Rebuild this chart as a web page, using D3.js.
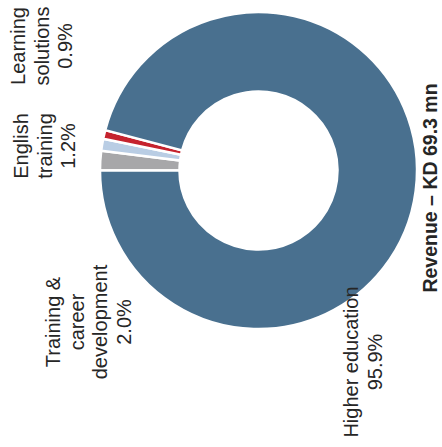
<!DOCTYPE html>
<html>
<head>
<meta charset="utf-8">
<script src="https://cdn.jsdelivr.net/npm/d3@7"></script>
<style>
  html, body { margin: 0; padding: 0; background: #fff; }
  text { font-family: "Liberation Sans", Arial, sans-serif; }
</style>
</head>
<body>
<div id="chart"></div>
<script>
// segments, in drawing order (clockwise on screen from 9 o'clock)
let segments = ['Training & career development', 'English training', 'Learning solutions', 'Higher education'];
let shares = [2.0, 1.2, 0.9, 95.9];
let segmentColors = ['#a7a7a9', '#b9cde4', '#c5232e', '#49708f'];

// label lines, one list per segment
let labelLines = [
    ['Training &', 'career', 'development', '2.0%'],
    ['English', 'training', '1.2%'],
    ['Learning', 'solutions', '0.9%'],
    ['Higher education', '95.9%']
];
let title = 'Revenue \u2013 KD 69.3 mn';

let width = 442, height = 447,
    cx = 258.5, cy = 170.5,
    outerR = 158.5, innerR = 79,
    fontSize = 20, lineH = 23.5;

// where each rotated label block sits (x = first baseline, y = centre)
let labelPos = [
    {x: 60, y: 322},
    {x: 28, y: 146},
    {x: 25, y: 46},
    {x: 358, y: 362}
];

let svg = d3.select('#chart').append('svg')
    .attr('width', width)
    .attr('height', height);

let pie = d3.pie()
    .sort(null)
    .startAngle(-Math.PI / 2)
    .endAngle(Math.PI * 1.5)
    .value(d => d);

let arc = d3.arc()
    .innerRadius(innerR)
    .outerRadius(outerR);

let color = d3.scaleOrdinal()
    .domain(segments)
    .range(segmentColors);

let donut_g = svg.append('g')
    .attr('transform', `translate(${cx}, ${cy})`);

donut_g.selectAll('path')
    .data(pie(shares))
    .join('path')
    .attr('d', arc)
    .attr('fill', (d, i) => color(segments[i]))
    .attr('stroke', '#fff')
    .attr('stroke-width', 2.5);

// labels read bottom-to-top, like the rest of the page
let label_g = svg.append('g');

labelLines.forEach((lines, i) => {
    let t = label_g.append('text')
        .attr('transform', `translate(${labelPos[i].x}, ${labelPos[i].y}) rotate(-90)`)
        .attr('text-anchor', 'middle')
        .attr('font-size', fontSize)
        .attr('fill', '#262626');
    t.selectAll('tspan')
        .data(lines)
        .join('tspan')
        .attr('x', 0)
        .attr('y', (d, j) => j * lineH)
        .text(d => d);
});

svg.append('text')
    .attr('transform', `translate(437, 188) rotate(-90)`)
    .attr('text-anchor', 'middle')
    .attr('font-size', 19.5)
    .attr('font-weight', 'bold')
    .attr('fill', '#262626')
    .text(title);
</script>
</body>
</html>
